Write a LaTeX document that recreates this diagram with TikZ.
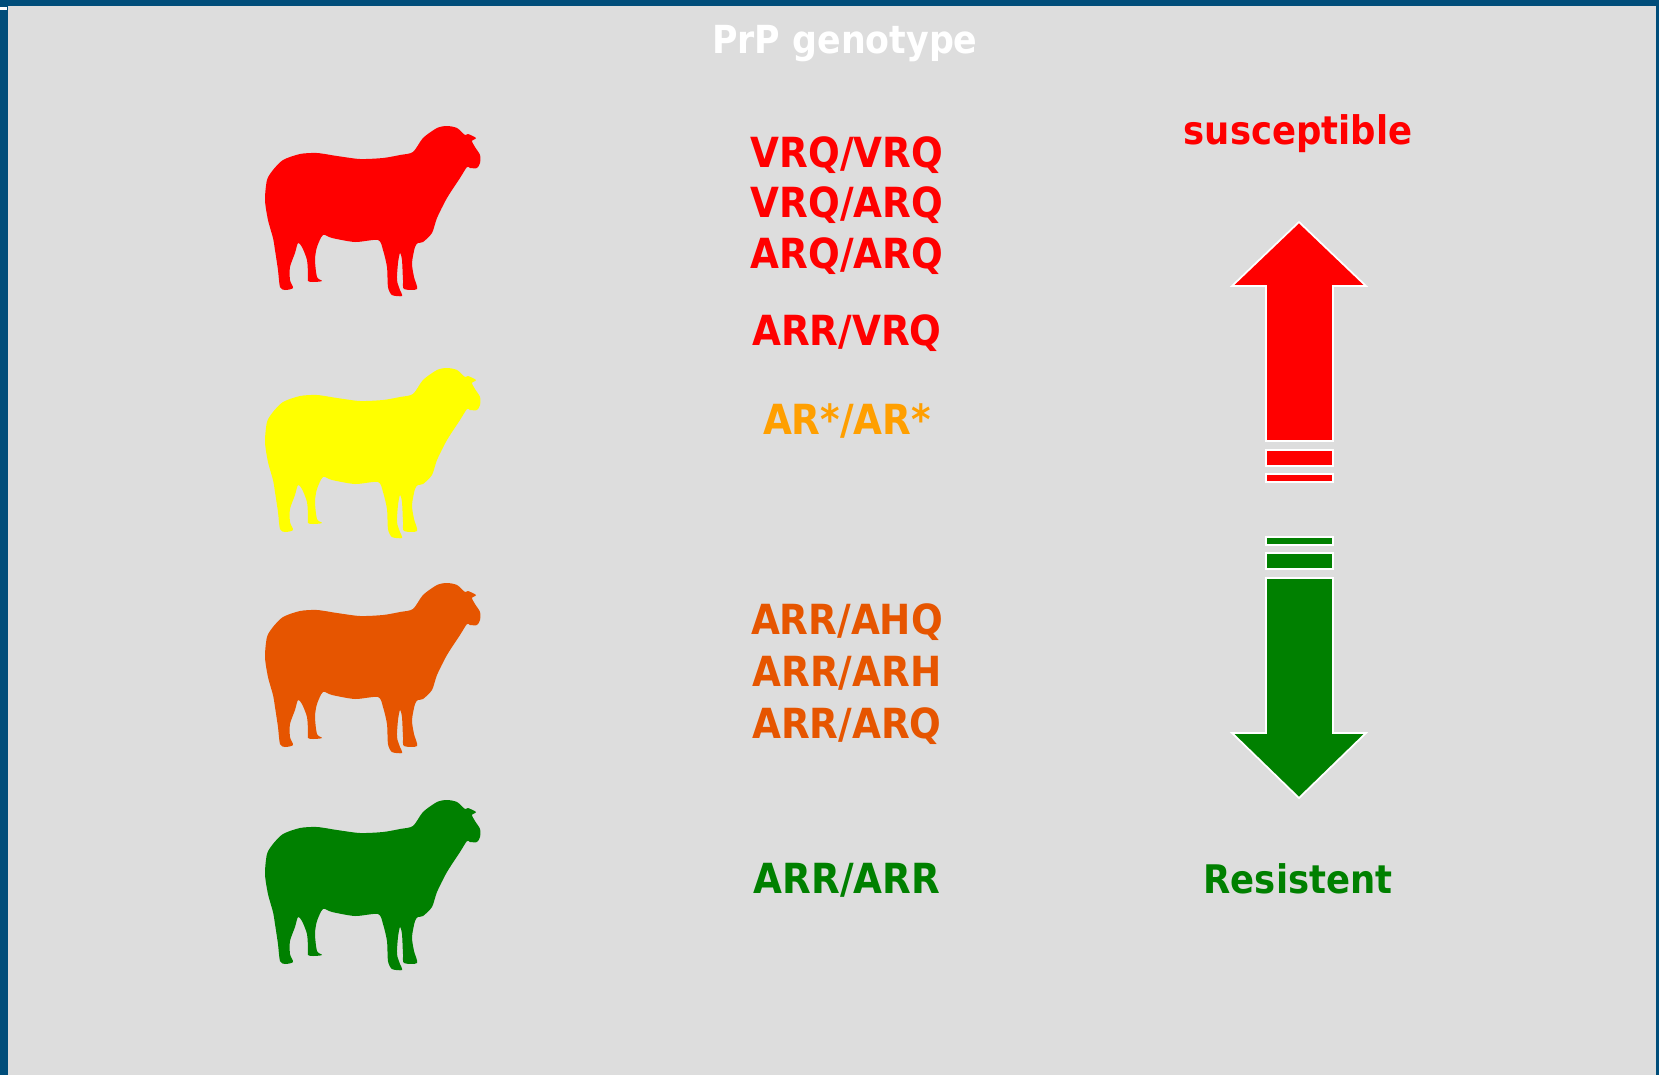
\documentclass[tikz,border=0pt]{standalone}
\usepackage{fontspec}
\setmainfont{DejaVu Sans Condensed}

\definecolor{framebg}{HTML}{DDDDDD}
\definecolor{frameblue}{HTML}{004D7A}
\definecolor{sheepred}{HTML}{FF0000}
\definecolor{sheepyellow}{HTML}{FFFF00}
\definecolor{sheeporange}{HTML}{E65500}
\definecolor{sheepgreen}{HTML}{008000}
\definecolor{textamber}{HTML}{FF9F00}

\tikzset{
  geno/.style={font=\fontsize{11.8}{14}\selectfont\bfseries, anchor=base},
  scale label/.style={font=\fontsize{11.2}{14}\selectfont\bfseries, anchor=base},
  bar/.style={draw=white, line width=0.5pt},
  pics/sheep/.style={code={
    \fill[#1] plot[smooth cycle, tension=0.45] coordinates {
      (118,33) (135,30) (148,27) (158,13) (172,3) (182,1) (192,3) (200,10)
      (203,9) (211,13) (207,16) (210,22) (215,30) (215,38) (212,43) (205,43)
      (202,42) (195,53) (182,73) (172,93) (167,108) (158,117) (153,118)
      (150,122) (147,138) (149,152) (152,164) (139,164) (138,155) (137,135)
      (135,128) (133,138) (132,155) (135,165) (137,171) (127,170) (123,162)
      (122,142) (118,125) (113,115) (90,117) (67,113) (58,110)
      (52,122) (50,135) (52,152) (57,156) (48,157) (43,156) (43,150)
      (42,135) (37,122) (33,118) (30,128) (25,142) (25,155) (28,163)
      (20,165) (15,162) (13,145) (10,125) (8,113) (3,95) (0,75) (2,55)
      (8,45) (18,35) (35,29) (52,28) (72,31) (95,34)};
  }}
}

\begin{document}
\begin{tikzpicture}[x=0.01cm, y=-0.01cm]
\useasboundingbox (0,0) rectangle (1659,1075);
\fill[framebg] (0,0) rectangle (1659,1075);
\fill[frameblue] (0,0) rectangle (1659,6);
\fill[frameblue] (0,0) rectangle (8,1075);
\fill[frameblue] (1656,0) rectangle (1659,1075);
\fill[white] (0,7) rectangle (7,10);

\node[font=\fontsize{11}{14}\selectfont\bfseries, text=white, anchor=base] (title) at (845,53) {PrP genotype};

% sheep
\pic (redsheep) at (265,125) {sheep=sheepred};
\pic (yellowsheep) at (265,367) {sheep=sheepyellow};
\pic (orangesheep) at (265,582) {sheep=sheeporange};
\pic (greensheep) at (265,799) {sheep=sheepgreen};

% genotypes
\node[geno, text=sheepred] (vrqvrq) at (847,167) {VRQ/VRQ};
\node[geno, text=sheepred] (vrqarq) at (847,217) {VRQ/ARQ};
\node[geno, text=sheepred] (arqarq) at (847,268) {ARQ/ARQ};
\node[geno, text=sheepred] (arrvrq) at (847,345) {ARR/VRQ};
\node[geno, text=textamber] (arsars) at (847,434) {AR*/AR*};
\node[geno, text=sheeporange] (arrahq) at (847,634) {ARR/AHQ};
\node[geno, text=sheeporange] (arrarh) at (847,686) {ARR/ARH};
\node[geno, text=sheeporange] (arrarq) at (847,738) {ARR/ARQ};
\node[geno, text=sheepgreen] (arrarr) at (847,893) {ARR/ARR};

% scale
\node[scale label, text=sheepred] (susc) at (1298,144) {susceptible};
\node[scale label, text=sheepgreen] (resist) at (1298,893) {Resistent};

\filldraw[bar, fill=sheepred] (1266,441) -- (1266,286) -- (1232,286) -- (1299,222)
  -- (1366,286) -- (1333,286) -- (1333,441) -- cycle;
\filldraw[bar, fill=sheepred] (1266,450) rectangle (1333,466);
\filldraw[bar, fill=sheepred] (1266,474) rectangle (1333,482);

\filldraw[bar, fill=sheepgreen] (1266,537) rectangle (1333,545);
\filldraw[bar, fill=sheepgreen] (1266,553) rectangle (1333,569);
\filldraw[bar, fill=sheepgreen] (1266,578) -- (1266,733) -- (1232,733) -- (1299,798)
  -- (1366,733) -- (1333,733) -- (1333,578) -- cycle;
\end{tikzpicture}
\end{document}
